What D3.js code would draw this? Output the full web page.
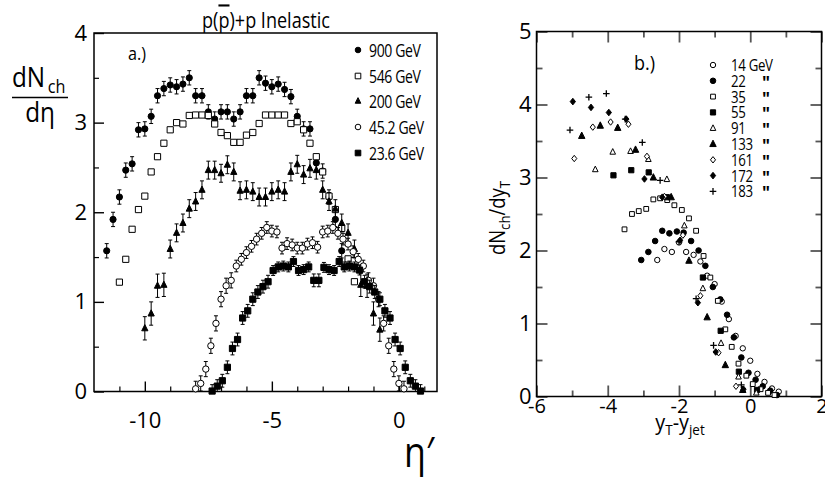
<!DOCTYPE html>
<html><head><meta charset="utf-8">
<script src="https://cdn.jsdelivr.net/npm/d3@7"></script>
<style>
body{margin:0;background:#fff}
svg{display:block}
text{font-family:"Open Sans",sans-serif;fill:#000}
</style>
</head><body><svg id="c" width="825" height="480"></svg>
<script>
// ---------- Panel a data : dN_ch/dη' vs η' ----------
const eta900=[-11.5,-11.25,-11,-10.75,-10.5,-10.25,-10,-9.75,-9.5,-9.25,-9,-8.75,-8.5,-8.25,-8,-7.75,-7.5,-7.25,-7,-6.75,-6.5,-6.25,-6,-5.75,-5.5,-5.25,-5,-4.75,-4.5,-4.25,-4,-3.75,-3.5,-3.25,-3,-2.75,-2.5,-2.25];
const dn900=[1.57,1.92,2.17,2.47,2.54,2.92,2.93,3.07,3.30,3.38,3.42,3.40,3.43,3.50,3.30,3.30,3.12,3.04,3.12,3.12,3.04,3.12,3.30,3.30,3.50,3.44,3.40,3.43,3.37,3.29,3.07,2.93,2.93,2.55,2.46,2.17,1.92,1.57];
const eta546=[-11,-10.75,-10.5,-10.25,-10,-9.75,-9.5,-9.25,-9,-8.75,-8.5,-8.25,-8,-7.75,-7.5,-7.25,-7,-6.75,-6.5,-6.25,-6,-5.75,-5.5,-5.25,-5,-4.75,-4.5,-4.25,-4,-3.75,-3.5,-3.25,-3,-2.75,-2.5,-2.25,-2,-1.75];
const dn546=[1.22,1.475,1.81,2.03,2.18,2.45,2.62,2.77,2.92,3.00,2.985,3.08,3.085,3.085,3.08,2.985,2.89,2.855,2.78,2.78,2.86,2.89,2.99,3.085,3.085,3.085,3.085,2.99,3.01,2.92,2.77,2.62,2.45,2.18,2.03,1.82,1.48,1.225];
const eta200=[-10,-9.75,-9.5,-9.25,-9,-8.75,-8.5,-8.25,-8,-7.75,-7.5,-7.25,-7,-6.75,-6.5,-6.25,-6,-5.75,-5.5,-5.25,-5,-4.75,-4.5,-4.25,-4,-3.75,-3.5,-3.25,-3,-2.75,-2.5,-2.25,-2,-1.75,-1.5,-1.25,-1,-0.75];
const dn200=[0.705,0.87,1.18,1.19,1.59,1.77,1.88,2.04,2.12,2.25,2.47,2.47,2.435,2.53,2.45,2.24,2.25,2.23,2.17,2.17,2.23,2.25,2.23,2.45,2.535,2.42,2.49,2.47,2.25,2.12,2.04,1.88,1.77,1.59,1.19,1.18,0.87,0.69];
const eta45=[-8,-7.8,-7.6,-7.4,-7.2,-7,-6.8,-6.6,-6.4,-6.2,-6,-5.8,-5.6,-5.4,-5.2,-5,-4.8,-4.6,-4.4,-4.2,-4,-3.8,-3.6,-3.4,-3.2,-3,-2.8,-2.6,-2.4,-2.2,-2,-1.8,-1.6,-1.4,-1.2,-1,-0.8,-0.6,-0.4,-0.2,0,0.2];
const dn45=[0.03,0.09,0.25,0.51,0.76,1.03,1.18,1.24,1.40,1.475,1.55,1.62,1.70,1.765,1.83,1.79,1.78,1.60,1.65,1.635,1.60,1.60,1.645,1.66,1.61,1.78,1.79,1.83,1.765,1.70,1.645,1.56,1.475,1.40,1.24,1.18,1.03,0.76,0.51,0.25,0.09,0.03];
const eta23=[-7.35,-7.15,-6.95,-6.75,-6.55,-6.35,-6.15,-5.95,-5.75,-5.55,-5.35,-5.15,-4.95,-4.75,-4.55,-4.35,-4.15,-3.95,-3.75,-3.55,-3.35,-3.15,-2.95,-2.75,-2.55,-2.35,-2.15,-1.95,-1.75,-1.55,-1.35,-1.15,-0.95,-0.75,-0.55,-0.35,-0.15,0.05,0.25,0.45,0.65,0.85];
const dn23=[0.005,0.06,0.12,0.27,0.48,0.58,0.82,0.90,1.03,1.11,1.17,1.225,1.35,1.39,1.40,1.39,1.45,1.35,1.36,1.39,1.24,1.24,1.385,1.36,1.35,1.45,1.39,1.40,1.39,1.355,1.225,1.17,1.11,1.03,0.90,0.82,0.58,0.48,0.27,0.12,0.06,0.005];
const errA=[0.08,0,0.1,0.065,0.055];
const legendA=["900 GeV","546 GeV","200 GeV","45.2 GeV","23.6 GeV"];
const xTicksA=[-10,-5,0];
const yTicksA=[0,1,2,3,4];

// ---------- Panel b data : dN_ch/dy_T vs y_T - y_jet ----------
const x14=[-2.61,-2.41,-2.20,-2.00,-1.80,-1.59,-1.40,-1.21,-1.00,-0.80,-0.60,-0.41,-0.21,0.00,0.20,0.40,0.61,0.80];
const y14=[1.87,2.02,1.98,2.11,1.98,1.94,1.85,1.655,1.54,1.30,1.06,0.83,0.66,0.49,0.31,0.20,0.11,0.066];
const x22=[-3.06,-2.86,-2.67,-2.47,-2.27,-2.06,-1.87,-1.66,-1.45,-1.26,-1.05,-0.84,-0.65,-0.46,-0.25,-0.05,0.15,0.35,0.56,0.75];
const y22=[1.87,1.98,2.13,2.27,2.235,2.26,2.245,2.13,2.00,1.79,1.50,1.33,1.12,0.81,0.535,0.325,0.23,0.14,0.08,0.02];
const x35=[-3.53,-3.32,-3.13,-2.92,-2.72,-2.53,-2.33,-2.13,-1.92,-1.72,-1.52,-1.31,-1.12,-0.91,-0.70,-0.52,-0.33,-0.11,0.07,0.29,0.50,0.68];
const y35=[2.29,2.50,2.54,2.57,2.70,2.715,2.69,2.62,2.555,2.44,2.27,1.925,1.63,1.31,0.92,0.68,0.45,0.285,0.17,0.10,0.05,0.02];
const x55=[-3.84,-3.34,-2.85,-2.34,-1.33,-0.83,-0.32,0.19];
const y55=[3.03,3.10,3.07,2.73,1.63,0.90,0.34,0.09];
const x91=[-4.35,-3.86,-3.36,-2.86,-2.34,-1.85,-1.33,-0.82,-0.33,0.17];
const y91=[3.11,3.35,3.36,3.25,2.975,2.34,1.48,0.73,0.27,0.05];
const x133=[-4.73,-4.21,-3.72,-3.22,-2.72,-2.22,-1.72,-1.21,-0.70,-0.21];
const y133=[3.57,3.71,3.68,3.38,3.00,2.73,1.86,1.085,0.43,0.09];
const x161=[-4.94,-4.42,-3.92,-3.42,-2.90,-2.41,-1.89,-1.40,-0.89,-0.40];
const y161=[3.26,3.69,3.76,3.73,3.29,2.74,2.21,1.38,0.60,0.14];
const x172=[-4.98,-4.47,-3.97,-3.48,-2.97,-2.47,-1.97,-1.47,-0.97,-0.19];
const y172=[4.04,3.96,3.89,3.80,2.98,2.73,2.14,1.285,0.61,0.10];
const x183=[-5.06,-4.53,-4.04,-3.51,-3.03,-2.53,-2.00,-1.52,-1.03,-0.25];
const y183=[3.65,4.10,4.15,3.80,3.48,2.96,2.12,1.34,0.70,0.16];
const legendB=["14 GeV","22","35","55","91","133","161","172","183"];
const xTicksB=[-6,-4,-2,0,2];
const yTicksB=[0,1,2,3,4,5];

// ---------- helpers ----------
function shape(type,r){
  switch(type){
    case "circle": return `M${r},0A${r},${r} 0 1,1 ${-r},0A${r},${r} 0 1,1 ${r},0Z`;
    case "square": return `M${-r},${-r}H${r}V${r}H${-r}Z`;
    case "triangle": return `M0,${-r*1.2}L${r},${r*0.8}L${-r},${r*0.8}Z`;
    case "diamond": return `M0,${-r}L${r*0.8},0L0,${r}L${-r*0.8},0Z`;
    case "plus": return `M${-r},0H${r}M0,${-r}V${r}`;
  }
}
function styleMark(sel,fill,type){
  sel.attr("fill",type==="plus"?"none":(fill?"#000":"#fff"))
     .attr("stroke","#000").attr("stroke-width",type==="plus"?1.3:1);
}
function condText(parent,x,y,size,sx,str){
  return parent.append("text").attr("transform",`translate(${x},${y}) scale(${sx},1)`)
    .attr("font-size",size).text(str);
}

const svg=d3.select("#c");
svg.append("rect").attr("width",825).attr("height",480).attr("fill","#fff");

// ================= Panel a =================
const xa=d3.scaleLinear().domain([-12,1.5]).range([94,437]);
const ya=d3.scaleLinear().domain([0,4]).range([391.5,33]);
const ga=svg.append("g");

function axisStyle(g,col,w){
  g.select(".domain").remove();
  g.selectAll(".tick line").attr("stroke",col).attr("stroke-width",w);
}
ga.append("g").attr("transform",`translate(0,${ya(0)})`)
  .call(d3.axisBottom(xa).tickValues(d3.range(-11,2,1).filter(v=>!xTicksA.includes(v))).tickSize(-5).tickFormat(""))
  .call(g=>axisStyle(g,"#000",1.2));
ga.append("g").attr("transform",`translate(0,${ya(0)})`)
  .call(d3.axisBottom(xa).tickValues(xTicksA).tickSize(-10).tickPadding(21).tickFormat(d=>d))
  .call(g=>axisStyle(g,"#000",1.4))
  .call(g=>g.selectAll("text").attr("font-size",22).attr("font-family","Open Sans"));
ga.append("g").attr("transform",`translate(${xa(-12)},0)`)
  .call(d3.axisLeft(ya).tickValues([0.5,1.5,2.5,3.5]).tickSize(-5).tickFormat(""))
  .call(g=>axisStyle(g,"#000",1.2));
ga.append("g").attr("transform",`translate(${xa(-12)},0)`)
  .call(d3.axisLeft(ya).tickValues(yTicksA).tickSize(-10).tickPadding(7).tickFormat(d=>d))
  .call(g=>axisStyle(g,"#000",1.4))
  .call(g=>g.selectAll("text").attr("font-size",22).attr("font-family","Open Sans"));
ga.append("rect").attr("x",xa(-12)).attr("y",ya(4)).attr("width",xa(1.5)-xa(-12)).attr("height",ya(0)-ya(4))
  .attr("fill","none").attr("stroke","#000").attr("stroke-width",1.5);

const seriesA=[
  {x:eta900,y:dn900,err:errA[0],type:"circle",fill:true,r:3.1},
  {x:eta546,y:dn546,err:errA[1],type:"square",fill:false,r:3.1},
  {x:eta200,y:dn200,err:errA[2],type:"triangle",fill:true,r:3.1},
  {x:eta45,y:dn45,err:errA[3],type:"circle",fill:false,r:3.2},
  {x:eta23,y:dn23,err:errA[4],type:"square",fill:true,r:3.1}
];
seriesA.forEach(s=>{
  const pts=s.x.map((v,i)=>({x:v,y:s.y[i]}));
  const g=ga.append("g");
  if(s.err>0){
    g.selectAll("path.eb").data(pts).join("path").attr("class","eb")
     .attr("d",d=>{const e=s.err*(d.y<1.3?1.3:1);const x=xa(d.x),y1=ya(d.y+e),y2=ya(Math.max(0,d.y-e));
        return `M${x},${y1}V${y2}M${x-2},${y1}H${x+2}M${x-2},${y2}H${x+2}`;})
     .attr("stroke","#000").attr("stroke-width",1).attr("fill","none");
  }
  g.selectAll("path.mk").data(pts).join("path").attr("class","mk")
   .attr("transform",d=>`translate(${xa(d.x)},${ya(d.y)})`)
   .attr("d",shape(s.type,s.r)).call(sel=>styleMark(sel,s.fill,s.type));
});

// legend a
const legYA=[50,76,101,127,153];
seriesA.forEach((s,i)=>{
  ga.append("path").attr("transform",`translate(358,${legYA[i]})`).attr("d",shape(s.type,2.8))
    .call(sel=>styleMark(sel,s.fill,s.type));
  condText(ga,369,legYA[i]+6.5,18,0.78,legendA[i]).attr("letter-spacing",-0.5);
});
condText(ga,128,60,18,0.9,"a.)");

// title
const tt=svg.append("text").attr("transform","translate(266,28) scale(0.86,1)").attr("text-anchor","middle").attr("font-size",21);
tt.append("tspan").text("p(");
tt.append("tspan").attr("style","text-decoration:overline").text("p");
tt.append("tspan").text(")+p Inelastic");

// y label a
const yl=svg.append("text").attr("transform","translate(12,87) scale(0.9,1)").attr("font-size",27);
yl.append("tspan").text("dN");
yl.append("tspan").attr("font-size",18).attr("dx",3).attr("dy",6).text("ch");
svg.append("line").attr("x1",12).attr("x2",68).attr("y1",97.5).attr("y2",97.5).attr("stroke","#000").attr("stroke-width",1.5);
svg.append("text").attr("transform","translate(40,122) scale(0.9,1)").attr("text-anchor","middle").attr("font-size",27).text("dη");
// x label a
svg.append("text").attr("transform","translate(404,467) scale(0.85,1)").attr("font-size",42).text("η′");

// ================= Panel b =================
const xb=d3.scaleLinear().domain([-6,2]).range([536.5,821.5]);
const yb=d3.scaleLinear().domain([0,5]).range([396.5,31.5]);
const gb=svg.append("g");
const minX=[-5,-3,-1,1], minY=[0.5,1.5,2.5,3.5,4.5];
const tcol="#555";
gb.append("g").attr("transform",`translate(0,${yb(0)})`)
  .call(d3.axisBottom(xb).tickValues(minX).tickSize(-6).tickFormat("")).call(g=>axisStyle(g,tcol,1.8));
gb.append("g").attr("transform",`translate(0,${yb(0)})`)
  .call(d3.axisBottom(xb).tickValues(xTicksB).tickSize(-11).tickPadding(2).tickFormat(d=>d))
  .call(g=>axisStyle(g,tcol,1.8))
  .call(g=>g.selectAll("text").attr("font-size",20).attr("font-family","Open Sans"));
gb.append("g").attr("transform",`translate(0,${yb(5)})`)
  .call(d3.axisTop(xb).tickValues(minX).tickSize(-6).tickFormat("")).call(g=>axisStyle(g,tcol,1.8));
gb.append("g").attr("transform",`translate(0,${yb(5)})`)
  .call(d3.axisTop(xb).tickValues(xTicksB).tickSize(-11).tickFormat("")).call(g=>axisStyle(g,tcol,1.8));
gb.append("g").attr("transform",`translate(${xb(-6)},0)`)
  .call(d3.axisLeft(yb).tickValues(minY).tickSize(-6).tickFormat("")).call(g=>axisStyle(g,tcol,1.8));
gb.append("g").attr("transform",`translate(${xb(-6)},0)`)
  .call(d3.axisLeft(yb).tickValues(yTicksB).tickSize(-11).tickPadding(5).tickFormat(d=>d))
  .call(g=>axisStyle(g,tcol,1.8))
  .call(g=>g.selectAll("text").attr("font-size",22).attr("font-family","Open Sans"));
gb.append("g").attr("transform",`translate(${xb(2)},0)`)
  .call(d3.axisRight(yb).tickValues(minY).tickSize(-6).tickFormat("")).call(g=>axisStyle(g,tcol,1.8));
gb.append("g").attr("transform",`translate(${xb(2)},0)`)
  .call(d3.axisRight(yb).tickValues(yTicksB).tickSize(-11).tickFormat("")).call(g=>axisStyle(g,tcol,1.8));
gb.append("rect").attr("x",xb(-6)).attr("y",yb(5)).attr("width",xb(2)-xb(-6)).attr("height",yb(0)-yb(5))
  .attr("fill","none").attr("stroke","#000").attr("stroke-width",1.5);

const seriesB=[
  {x:x14,y:y14,type:"circle",fill:false,r:2.7},
  {x:x22,y:y22,type:"circle",fill:true,r:2.8},
  {x:x35,y:y35,type:"square",fill:false,r:2.4},
  {x:x55,y:y55,type:"square",fill:true,r:2.6},
  {x:x91,y:y91,type:"triangle",fill:false,r:2.8},
  {x:x133,y:y133,type:"triangle",fill:true,r:3.2},
  {x:x161,y:y161,type:"diamond",fill:false,r:3.2},
  {x:x172,y:y172,type:"diamond",fill:true,r:3.3},
  {x:x183,y:y183,type:"plus",fill:false,r:3.3}
];
seriesB.forEach(s=>{
  const pts=s.x.map((v,i)=>({x:v,y:s.y[i]}));
  gb.append("g").selectAll("path").data(pts).join("path")
    .attr("transform",d=>`translate(${xb(d.x)},${yb(d.y)})`)
    .attr("d",shape(s.type,s.r)).call(sel=>styleMark(sel,s.fill,s.type));
});
const legYB=[65,80.8,96.6,112.4,128.2,144,159.8,175.6,191.4];
seriesB.forEach((s,i)=>{
  gb.append("path").attr("transform",`translate(713,${legYB[i]})`).attr("d",shape(s.type,s.r))
    .call(sel=>styleMark(sel,s.fill,s.type));
  condText(gb,731,legYB[i]+6,17,0.78,legendB[i]).attr("letter-spacing",-0.4);
  if(i>0) condText(gb,762,legYB[i]+8,17,1,'"').attr("font-weight","bold").attr("fill","#000");
});
condText(gb,634,70,20,0.9,"b.)");

// y label b
const ylb=svg.append("text").attr("transform","translate(505,218) rotate(-90) scale(0.88,1)").attr("text-anchor","middle").attr("font-size",21);
ylb.append("tspan").text("dN");
ylb.append("tspan").attr("font-size",15).attr("dy",5).text("ch");
ylb.append("tspan").attr("dy",-5).text("/dy");
ylb.append("tspan").attr("font-size",15).attr("dy",5).text("T");
// x label b
const xlb=svg.append("text").attr("transform","translate(680,430) scale(0.9,1)").attr("text-anchor","middle").attr("font-size",22);
xlb.append("tspan").text("y");
xlb.append("tspan").attr("font-size",15).attr("dy",5).text("T");
xlb.append("tspan").attr("dy",-5).text("-y");
xlb.append("tspan").attr("font-size",15).attr("dy",5).text("jet");
</script>
</body></html>
